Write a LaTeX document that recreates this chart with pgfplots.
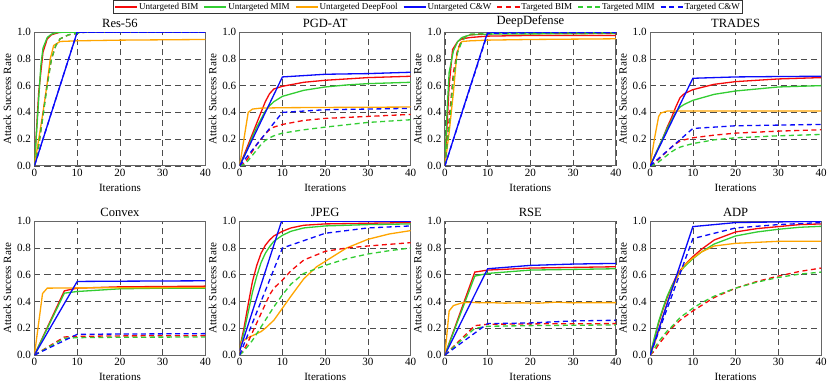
\documentclass[border=0pt]{standalone}
\usepackage{fontspec}
\setmainfont{Liberation Serif}
\usepackage{pgfplots}
\pgfplotsset{compat=1.18}
\usepgfplotslibrary{groupplots}

\definecolor{cred}{RGB}{245,10,10}
\definecolor{cgreen}{RGB}{50,205,50}
\definecolor{corange}{RGB}{255,165,0}
\definecolor{cblue}{RGB}{10,10,250}

\pgfplotsset{
  ubim/.style={color=cred, line width=1.3pt},
  umim/.style={color=cgreen, line width=1.3pt},
  udf/.style={color=corange, line width=1.3pt},
  ucw/.style={color=cblue, line width=1.3pt},
  tbim/.style={color=cred, line width=1.3pt, dash pattern=on 5pt off 3.5pt},
  tmim/.style={color=cgreen, line width=1.3pt, dash pattern=on 5pt off 3.5pt},
  tcw/.style={color=cblue, line width=1.3pt, dash pattern=on 5pt off 3.5pt},
  panel/.style={
    width=170pt, height=133pt, scale only axis,
    xmin=0, xmax=40, ymin=0, ymax=1,
    xtick={0,10,20,30,40}, ytick={0,0.2,0.4,0.6,0.8,1},
    yticklabel style={/pgf/number format/fixed, /pgf/number format/fixed zerofill, /pgf/number format/precision=1},
    /pgf/number format/assume math mode=true,
    ticklabel style={font=\fontsize{11}{12}\selectfont},
    label style={font=\fontsize{11}{12}\selectfont},
    title style={font=\fontsize{12.5}{14}\selectfont, at={(rel axis cs:0.5,1)}, anchor=south, yshift=-5pt},
    xlabel={Iterations}, ylabel={Attack Success Rate},
    xlabel style={yshift=0pt}, ylabel style={yshift=-1pt},
    grid=major, grid style={black!70, line width=0.6pt, dash pattern=on 6pt off 4pt},
    axis line style={black!60, line width=1pt},
    major tick length=0pt,
    no markers,
  },
}

\begin{document}
\begin{tikzpicture}
\begin{groupplot}[
  group style={group size=4 by 2, horizontal sep=34pt, vertical sep=55pt},
  panel,
]
% ---------------- Res-56
\nextgroupplot[title={Res-56},
  legend columns=7,
  legend style={at={(2.3,1.24)}, anchor=north, font=\fontsize{9}{10}\selectfont,
    draw=black!80, line width=0.8pt, inner sep=0.8pt,
    nodes={inner xsep=1.2pt, inner ysep=1.8pt},
    /tikz/every even column/.append style={column sep=4pt}},
  legend image code/.code={\draw[#1, line width=1.3pt] (0pt,0pt) -- (22pt,0pt);}]
\addplot[ubim] coordinates {(0,0)(1,0.55)(2,0.85)(3,0.95)(4,0.98)(5,0.99)(6,1.0)(40,1.0)};
\addplot[umim] coordinates {(0,0)(1,0.5)(1.5,0.75)(2,0.88)(3,0.96)(4,0.985)(5,0.995)(7,1.0)(40,1.0)};
\addplot[udf] coordinates {(0,0)(1,0.2)(2,0.4)(3,0.62)(3.7,0.8)(4.5,0.9)(6,0.93)(10,0.935)(20,0.94)(40,0.945)};
\addplot[ucw] coordinates {(0,0)(10,1)(20,1)(30,1)(40,1)};
\addplot[tbim] coordinates {(0,0)(1,0.15)(2,0.38)(3,0.62)(4,0.8)(5,0.9)(6,0.95)(8,0.98)(10,0.99)(12,1)(40,1)};
\addplot[tmim] coordinates {(0,0)(1,0.15)(2,0.37)(3,0.6)(4,0.8)(5,0.9)(6,0.95)(8,0.98)(10,0.99)(12,1.0)(40,1.0)};
\addplot[tcw] coordinates {(0,0)(10,1)(20,1)(30,1)(40,1)};
\legend{Untargeted BIM, Untargeted MIM, Untargeted DeepFool, Untargeted C\&W, Targeted BIM, Targeted MIM, Targeted C\&W}
% ---------------- PGD-AT
\nextgroupplot[title={PGD-AT}]
\addplot[ubim] coordinates {(0,0)(1,0.08)(2,0.16)(3,0.24)(4,0.32)(5,0.4)(6,0.48)(7,0.54)(8,0.575)(10,0.595)(15,0.625)(20,0.64)(25,0.65)(30,0.66)(40,0.67)};
\addplot[umim] coordinates {(0,0)(1,0.07)(2,0.14)(3,0.22)(4,0.29)(5,0.35)(6,0.41)(7,0.45)(8,0.48)(10,0.52)(15,0.565)(20,0.59)(25,0.605)(30,0.615)(40,0.625)};
\addplot[udf] coordinates {(0,0)(1,0.2)(2,0.4)(3,0.425)(5,0.432)(10,0.435)(20,0.437)(40,0.44)};
\addplot[ucw] coordinates {(0,0)(10,0.665)(20,0.685)(30,0.69)(40,0.70)};
\addplot[tbim] coordinates {(0,0)(1,0.02)(2,0.06)(3,0.11)(4,0.16)(5,0.2)(6,0.24)(7,0.27)(8,0.29)(10,0.31)(15,0.34)(20,0.355)(30,0.37)(40,0.385)};
\addplot[tmim] coordinates {(0,0)(1,0.01)(2,0.04)(3,0.08)(4,0.12)(5,0.16)(6,0.19)(7,0.21)(8,0.225)(10,0.245)(15,0.27)(20,0.29)(30,0.325)(40,0.345)};
\addplot[tcw] coordinates {(0,0)(10,0.40)(20,0.42)(30,0.425)(40,0.43)};
% ---------------- DeepDefense
\nextgroupplot[title={DeepDefense}]
\addplot[ubim] coordinates {(0,0)(1,0.6)(1.8,0.87)(3,0.93)(4,0.95)(6,0.96)(10,0.97)(20,0.975)(40,0.975)};
\addplot[umim] coordinates {(0,0)(0.5,0.4)(1,0.7)(2,0.86)(3,0.93)(4,0.96)(6,0.98)(10,0.985)(40,0.99)};
\addplot[udf] coordinates {(0,0)(1,0.25)(2,0.55)(2.8,0.835)(3.5,0.91)(4,0.93)(6,0.935)(10,0.94)(20,0.945)(40,0.95)};
\addplot[ucw] coordinates {(0,0)(10,1)(20,1)(30,1)(40,1)};
\addplot[tbim] coordinates {(0,0)(1,0.35)(2,0.7)(3,0.87)(4,0.94)(5,0.97)(6,0.98)(10,0.99)(40,0.99)};
\addplot[tmim] coordinates {(0,0)(1,0.3)(2,0.65)(3,0.85)(4,0.93)(5,0.97)(6,0.985)(10,0.99)(40,0.995)};
\addplot[tcw] coordinates {(0,0)(10,0.99)(20,0.995)(40,0.995)};
% ---------------- TRADES
\nextgroupplot[title={TRADES}]
\addplot[ubim] coordinates {(0,0)(1,0.07)(2,0.14)(3,0.21)(4,0.29)(5,0.36)(6,0.44)(7,0.51)(8,0.54)(10,0.57)(15,0.61)(20,0.63)(25,0.64)(30,0.65)(40,0.66)};
\addplot[umim] coordinates {(0,0)(1,0.07)(2,0.14)(3,0.21)(4,0.28)(5,0.34)(6,0.4)(7,0.44)(8,0.46)(10,0.49)(15,0.535)(20,0.56)(25,0.575)(30,0.59)(40,0.60)};
\addplot[udf] coordinates {(0,0)(1,0.2)(2,0.37)(2.5,0.395)(4,0.41)(10,0.41)(40,0.41)};
\addplot[ucw] coordinates {(0,0)(10,0.655)(20,0.665)(30,0.668)(40,0.67)};
\addplot[tbim] coordinates {(0,0)(1,0.02)(2,0.05)(3,0.08)(4,0.11)(5,0.14)(6,0.165)(7,0.185)(8,0.195)(10,0.21)(15,0.23)(20,0.245)(30,0.26)(40,0.27)};
\addplot[tmim] coordinates {(0,0)(1,0.01)(2,0.03)(3,0.055)(4,0.08)(5,0.105)(6,0.125)(7,0.14)(8,0.15)(10,0.167)(15,0.195)(20,0.21)(30,0.225)(40,0.235)};
\addplot[tcw] coordinates {(0,0)(10,0.28)(20,0.30)(30,0.305)(40,0.31)};
% ---------------- Convex
\nextgroupplot[title={Convex}]
\addplot[ubim] coordinates {(0,0)(7,0.48)(10,0.50)(20,0.51)(30,0.512)(40,0.515)};
\addplot[umim] coordinates {(0,0)(7,0.4625)(10,0.475)(20,0.495)(30,0.5)(40,0.5)};
\addplot[udf] coordinates {(0,0)(1.9,0.46)(3,0.50)(10,0.502)(40,0.505)};
\addplot[ucw] coordinates {(0,0)(10,0.55)(20,0.552)(40,0.555)};
\addplot[tbim] coordinates {(0,0)(7,0.135)(10,0.14)(20,0.143)(40,0.145)};
\addplot[tmim] coordinates {(0,0)(7,0.125)(10,0.13)(20,0.133)(40,0.135)};
\addplot[tcw] coordinates {(0,0)(10,0.155)(20,0.157)(40,0.16)};
% ---------------- JPEG
\nextgroupplot[title={JPEG}]
\addplot[ubim] coordinates {(0,0.05)(1,0.2)(2,0.38)(3,0.55)(4,0.67)(5,0.76)(6,0.82)(7,0.86)(8,0.89)(10,0.925)(12,0.95)(15,0.97)(20,0.98)(30,0.985)(40,0.99)};
\addplot[umim] coordinates {(0,0.05)(1,0.17)(2,0.32)(3,0.47)(4,0.59)(5,0.69)(6,0.76)(7,0.81)(8,0.85)(10,0.895)(12,0.925)(15,0.95)(20,0.965)(30,0.975)(40,0.98)};
\addplot[udf] coordinates {(0,0.02)(0.5,0.1)(2,0.13)(4,0.16)(5,0.175)(6,0.2)(8,0.26)(10,0.35)(12,0.44)(15,0.57)(18,0.66)(20,0.70)(25,0.80)(30,0.865)(35,0.905)(40,0.93)};
\addplot[ucw] coordinates {(0,0.03)(9.8,1)(20,1)(30,1)(40,1)};
\addplot[tbim] coordinates {(0,0)(1,0.04)(2,0.1)(3,0.17)(4,0.24)(5,0.31)(6,0.38)(7,0.45)(8,0.5)(10,0.56)(12,0.63)(15,0.71)(20,0.775)(25,0.8)(30,0.815)(40,0.84)};
\addplot[tmim] coordinates {(0,0)(1,0.03)(2,0.07)(3,0.11)(4,0.16)(5,0.21)(6,0.26)(7,0.31)(8,0.36)(10,0.45)(12,0.53)(15,0.61)(20,0.67)(25,0.72)(30,0.755)(35,0.78)(40,0.80)};
\addplot[tcw] coordinates {(0,0)(10,0.80)(20,0.91)(30,0.95)(40,0.965)};
% ---------------- RSE
\nextgroupplot[title={RSE}]
\addplot[ubim] coordinates {(0,0)(7,0.62)(10,0.635)(20,0.65)(30,0.655)(40,0.66)};
\addplot[umim] coordinates {(0,0)(7,0.59)(10,0.61)(20,0.635)(30,0.64)(40,0.645)};
\addplot[udf] coordinates {(0,0)(1,0.33)(2,0.37)(3,0.38)(4,0.39)(6,0.395)(8,0.39)(10,0.392)(14,0.388)(18,0.39)(22,0.388)(26,0.395)(30,0.39)(35,0.392)(40,0.392)};
\addplot[ucw] coordinates {(0,0)(10,0.645)(20,0.67)(30,0.68)(40,0.685)};
\addplot[tbim] coordinates {(0,0)(7,0.22)(10,0.23)(20,0.233)(40,0.235)};
\addplot[tmim] coordinates {(0,0)(7,0.2)(10,0.215)(20,0.22)(40,0.225)};
\addplot[tcw] coordinates {(0,0)(10,0.235)(20,0.24)(30,0.255)(40,0.26)};
% ---------------- ADP
\nextgroupplot[title={ADP}]
\addplot[ubim] coordinates {(0,0)(1,0.12)(2,0.24)(3,0.34)(4,0.43)(5,0.51)(6,0.58)(7,0.63)(8,0.67)(10,0.735)(12,0.79)(15,0.86)(20,0.92)(25,0.945)(30,0.96)(35,0.975)(40,0.98)};
\addplot[umim] coordinates {(0,0)(1,0.13)(2,0.25)(3,0.35)(4,0.44)(5,0.51)(6,0.57)(7,0.62)(8,0.66)(10,0.72)(12,0.77)(15,0.83)(20,0.89)(25,0.92)(30,0.94)(35,0.955)(40,0.962)};
\addplot[udf] coordinates {(0,0)(1,0.08)(2,0.18)(3,0.29)(4,0.39)(5,0.48)(6,0.56)(7,0.62)(8,0.67)(10,0.725)(12,0.77)(15,0.815)(20,0.835)(30,0.85)(40,0.85)};
\addplot[ucw] coordinates {(0,0)(10,0.96)(20,0.99)(30,0.995)(40,1.0)};
\addplot[tbim] coordinates {(0,0)(1,0.03)(2,0.08)(3,0.12)(4,0.16)(5,0.2)(7,0.26)(10,0.33)(12,0.37)(15,0.43)(20,0.5)(25,0.55)(30,0.59)(35,0.625)(40,0.65)};
\addplot[tmim] coordinates {(0,0)(1,0.05)(2,0.1)(3,0.14)(4,0.18)(5,0.21)(7,0.28)(10,0.35)(12,0.39)(15,0.44)(20,0.5)(25,0.545)(30,0.58)(35,0.605)(40,0.62)};
\addplot[tcw] coordinates {(0,0)(10,0.87)(20,0.95)(30,0.975)(40,0.99)};
\end{groupplot}
\end{tikzpicture}
\end{document}
